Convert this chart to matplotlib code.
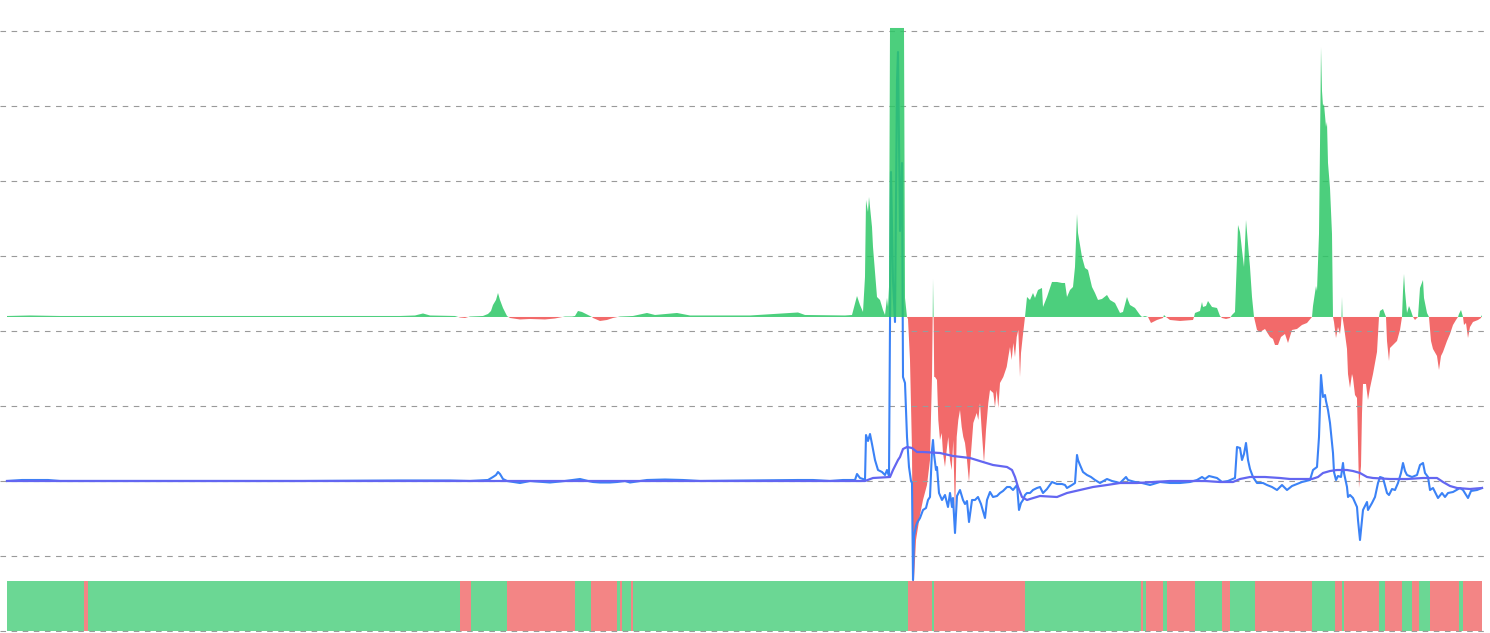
import numpy as np
import matplotlib.pyplot as plt

# oscillator (green above zero, red below), one grid step = 75
AREA = [
    (7, 1), (30, 1.5), (60, 1), (100, 1), (200, 1), (300, 1), (400, 1), (415, 1.5), (423, 3.5), (430, 1.5),
    (455, 1), (460, -0.5), (465, -1), (470, 0.5), (483, 1), (488, 3), (491, 6), (493, 12), (496, 17), (498, 24),
    (500, 17), (503, 9), (507, 1), (510, -1), (520, -2.5), (530, -2), (545, -2.5), (555, -1.5), (560, -0.5),
    (565, 0.5), (572, 0.5), (575, 1), (578, 6), (582, 5), (588, 2), (592, 0), (593, -1), (600, -4), (607, -3),
    (613, -1), (620, 0.5), (633, 1), (647, 4), (655, 2), (677, 4), (690, 1.5), (750, 1.5), (798, 4.5), (805, 2),
    (845, 1.5), (852, 2), (857, 21), (860, 12), (863, 5), (865, 40), (866, 117), (868, 105), (869, 120),
    (872, 90), (873, 70), (877, 20), (880, 17), (883, 7), (885, 2), (887, 19), (888, 10), (889, 30),
    (890, 289), (904, 289), (905, 19), (907, 0), (908, -2), (910, -43), (912, -133), (913, -286), (914, -263),
    (916, -223), (920, -198), (923, -183), (927, -168), (930, -143), (931, -100), (932, -60), (932.7, 0),
    (933, 38), (933.6, 0), (934.2, -60), (935, -60), (937, -63), (938.3, -103), (940, -123), (941.7, -116),
    (943, -136), (945, -150), (946.7, -133), (948.3, -120), (950, -143), (951.7, -153), (953.3, -123),
    (955, -200), (956.7, -120), (958.3, -103), (960, -93), (961.7, -110), (963.3, -120), (965, -126),
    (966.7, -140), (969, -165), (970.7, -140), (973.3, -106), (976.7, -96), (978.3, -103), (980, -86),
    (981.7, -113), (984, -146), (986, -113), (988.3, -86), (990, -73), (993.3, -76), (995, -90), (996.7, -73),
    (998.3, -91), (1000, -66), (1003.3, -60), (1006.7, -50), (1008.3, -40), (1010, -30), (1011.7, -43),
    (1013.3, -26), (1015, -40), (1016.7, -20), (1018.3, -13), (1020, -60), (1021, -36), (1022.7, -20),
    (1025, 0), (1027, 20), (1030, 17), (1033, 24), (1035, 19), (1038, 27), (1042, 29), (1043, 10), (1047, 20),
    (1052, 35), (1057, 35), (1062, 34), (1065, 34), (1067, 20), (1070, 27), (1073, 30), (1075, 50), (1077, 103),
    (1078, 84), (1082, 60), (1085, 49), (1088, 47), (1092, 30), (1095, 24), (1098, 17), (1102, 18), (1107, 22),
    (1110, 17), (1115, 14), (1120, 4), (1123, 5), (1127, 20), (1128, 17), (1130, 12), (1135, 9), (1140, 2),
    (1142, 0), (1145, 1), (1148, 0), (1151, -6), (1157, -3), (1163, -1), (1164, 2), (1166, 0), (1170, -3),
    (1180, -4), (1193, -3), (1194, 0), (1195, 4), (1200, 6), (1202, 15), (1203, 10), (1206, 11), (1208, 16),
    (1212, 10), (1217, 9), (1220, 1), (1222, -1), (1226, -2), (1230, -1), (1232, 2), (1235, 5), (1237, 60),
    (1238, 92), (1240, 85), (1242, 67), (1244, 50), (1246, 97), (1248, 73), (1250, 50), (1252, 20), (1254, 0),
    (1257, -13), (1260, -15), (1265, -12), (1270, -20), (1273, -22), (1275, -28), (1278, -28), (1281, -20),
    (1285, -17), (1288, -26), (1292, -13), (1297, -12), (1302, -8), (1307, -6), (1312, 0), (1313, 11),
    (1316, 31), (1317, 26), (1319, 83), (1320, 172), (1321, 270), (1322, 226), (1323, 211), (1324, 213),
    (1326, 190), (1327, 195), (1328, 154), (1330, 129), (1332, 83), (1333, 0), (1334, -5), (1336, -21),
    (1338, -10), (1340, -17), (1341, -8), (1341.5, 0), (1342, 20), (1342.5, 0), (1344, -10), (1345, -17),
    (1347, -32), (1348, -57), (1350, -71), (1352, -57), (1353, -61), (1355, -78), (1357, -81), (1359, -171),
    (1361, -149), (1362, -96), (1363, -67), (1366, -67), (1368, -83), (1370, -71), (1373, -57), (1377, -35),
    (1379, 0), (1380, 6), (1383, 8), (1386, 0), (1387, -24), (1389, -44), (1390, -31), (1393, -28),
    (1397, -24), (1400, -13), (1402, 0), (1403, 26), (1404, 43), (1405, 26), (1407, 4), (1409, 11), (1411, 6),
    (1413, 0), (1415, -3), (1417, -1), (1418, 0), (1420, 29), (1423, 37), (1424, 19), (1427, 4), (1429, 0),
    (1431, -24), (1433, -32), (1437, -39), (1439, -53), (1441, -39), (1443, -35), (1447, -24), (1450, -17),
    (1453, -8), (1456, -3), (1458, 0), (1459, 3), (1461, 7), (1463, 0), (1464, -8), (1466, -6), (1468, -21),
    (1470, -10), (1473, -5), (1478, -3), (1481, -1), (1482, 2),
]

# main line
LINE = [
    (7, 0), (22, 1), (48, 1), (60, 0), (100, 0), (200, 0), (300, 0), (400, 0.5), (450, 0.5), (470, 0), (488, 1),
    (493, 4), (496, 6), (498, 9), (500, 7), (503, 2), (507, 0), (520, -2), (530, 0), (550, -1.5), (565, 0),
    (580, 2), (588, 0), (593, -1), (600, -1.5), (610, -1.5), (617, -1), (625, 0), (630, -1.5), (640, 0),
    (647, 1), (665, 1.5), (683, 1), (700, 0), (750, 0.5), (798, 1), (813, 1), (830, 0), (843, 1), (855, 1),
    (857, 7), (860, 3), (863, 2), (865, 1), (866, 46), (868, 40), (870, 47), (872, 37), (875, 21), (878, 11),
    (882, 9), (885, 6), (887, 11), (889, 5), (891, 309), (893, 200), (895, 159), (897, 400), (898, 429),
    (900, 250), (902, 318), (903, 104), (905, 98), (907, 44), (909, 14), (911, 0), (912, -2), (913, -99),
    (914, -55), (916, -45),
    (917, -42), (920, -37), (923, -29), (926, -27), (928, -19), (930, -16), (932, 31), (933, 41), (934, 27),
    (936, 11), (937, 14), (939, -12), (942, -19), (945, -14), (948, -26), (950, -12), (952, -26), (953, -17),
    (955, -52), (957, -15), (960, -9), (963, -19), (965, -23), (967, -20), (969, -41), (972, -19), (975, -19),
    (978, -16), (981, -23), (985, -37), (987, -19), (990, -11), (993, -16), (997, -15), (1000, -12),
    (1003, -10), (1007, -6), (1010, -6), (1013, -9), (1017, -4), (1019, -29), (1021, -22), (1023, -19),
    (1025, -14), (1027, -12), (1030, -12), (1033, -9), (1037, -7), (1040, -6), (1043, -12), (1047, -8),
    (1052, -1), (1057, -3), (1062, -3), (1065, -4), (1067, -7), (1072, -4), (1075, -2), (1077, 26), (1078, 21),
    (1080, 16), (1083, 9), (1087, 6), (1091, 4), (1095, 1), (1100, -2), (1107, 2), (1112, 0), (1120, -2),
    (1126, 4), (1128, 1), (1135, -1), (1142, -2), (1150, -4), (1160, -1), (1170, -2), (1180, -2), (1190, -1),
    (1197, 1), (1202, 4), (1205, 2), (1209, 5), (1217, 3), (1222, -1), (1228, 0), (1235, 3), (1237, 34),
    (1240, 33), (1242, 21), (1244, 27), (1246, 38), (1248, 21), (1250, 12), (1253, 4), (1257, -2), (1263, -2),
    (1267, -4), (1272, -6), (1277, -9), (1282, -4), (1287, -9), (1292, -5), (1302, -1), (1310, 1), (1313, 11),
    (1317, 14), (1319, 44), (1321, 106), (1323, 84), (1325, 86), (1326, 80), (1328, 71), (1330, 58),
    (1333, 28), (1334, 9), (1336, 1), (1338, 5), (1341, 4), (1343, 18), (1344, 8), (1347, -6), (1348, -16),
    (1350, -14), (1353, -17), (1357, -26), (1358, -39), (1360, -59), (1362, -39), (1363, -29), (1367, -21),
    (1368, -29), (1372, -22), (1375, -16), (1378, -2), (1380, 4), (1383, 3), (1387, -12), (1389, -14),
    (1392, -8), (1395, -9), (1398, -2), (1401, 8), (1403, 18), (1405, 10), (1407, 6), (1412, 4), (1417, 6),
    (1420, 16), (1423, 18), (1425, 8), (1428, 4), (1430, -9), (1433, -7), (1438, -17), (1442, -12),
    (1445, -16), (1448, -12), (1453, -11), (1460, -7), (1463, -9), (1468, -17), (1471, -10), (1477, -9),
    (1482, -7),
]

# moving average of the main line
AVG = [
    (7, 0), (840, 0), (865, 0), (873, 3), (890, 4), (893, 11), (898, 21), (900, 24), (903, 32), (907, 34),
    (912, 33), (917, 29), (923, 29), (940, 28), (953, 25), (970, 23), (983, 19), (993, 16), (1007, 14),
    (1012, 11), (1015, 4), (1018, -6), (1022, -16), (1027, -19), (1030, -18), (1040, -15), (1057, -16),
    (1067, -12), (1080, -9), (1093, -6), (1107, -4), (1120, -2), (1137, -2), (1153, -1), (1170, 0), (1187, 0),
    (1205, 0), (1220, -1), (1233, -1), (1240, 2), (1250, 4), (1265, 4), (1280, 3), (1290, 2), (1312, 2),
    (1318, 4), (1323, 8), (1330, 10), (1337, 11), (1347, 11), (1353, 10), (1360, 8), (1367, 4), (1373, 3),
    (1390, 2), (1407, 2), (1423, 3), (1437, 3), (1443, -1), (1450, -5), (1457, -7), (1470, -8), (1482, -7),
]

# regime strip: edges and state of each segment (1 = bull, 0 = bear)
REGIME_EDGES = [7, 84, 87.5, 460, 471, 507, 575, 591, 617, 619.5, 622, 630.5, 633, 908, 932, 934, 1025,
                1141, 1143.3, 1145.7, 1163, 1166.8, 1194.5, 1221.8, 1230.4, 1255.3, 1312.2, 1335.2, 1341.9,
                1343.8, 1379.2, 1385, 1401.7, 1412.2, 1419.4, 1430.4, 1459.1, 1463, 1482]
REGIME_STATE = [1, 0, 1, 0, 1, 0, 1, 0, 1, 0, 1, 0, 1, 0, 1, 0, 1, 0, 1, 0, 1, 0, 1, 0, 1, 0, 1, 0, 1, 0,
                1, 0, 1, 0, 1, 0, 1, 0]

STEP = 75.0        # values per grid step
AREA_ZERO = 4.187  # grid level of the oscillator zero
LINE_ZERO = 2.0    # grid level of the line zero
STRIP_H = 0.667

GREEN, RED = '#2cc766', '#f26a6a'
STRIP_GREEN, STRIP_RED = '#6bd794', '#f38585'

at, av = np.array(AREA).T
lt, lv = np.array(LINE).T
mt, mv = np.array(AVG).T

fig = plt.figure(figsize=(14.9, 6.33), dpi=100)
ax = fig.add_axes([0, 0, 1, 1])
ax.set_xlim(0, 1490)
ax.set_ylim(-2 / STEP, 631 / STEP)
ax.axis('off')

# oscillator area (green is translucent and sits over the line)
ay = AREA_ZERO + av / STEP
ax.fill_between(at, AREA_ZERO, ay, where=av >= 0, interpolate=True, color=GREEN, alpha=0.85, lw=0, zorder=5)
ax.fill_between(at, AREA_ZERO, ay, where=av <= 0, interpolate=True, color=RED, lw=0, zorder=1)

# regime strip
for i, s in enumerate(REGIME_STATE):
    x0, x1 = REGIME_EDGES[i], REGIME_EDGES[i + 1]
    ax.fill_between([x0, x1], 0, STRIP_H, color=STRIP_GREEN if s else STRIP_RED, lw=0, zorder=1)

# grid
for k in range(9):
    ax.hlines(k, 0, 1486, colors='#9a9a9a', linestyles=(0, (5, 5)), linewidth=0.8, zorder=2)

ax.plot(lt, LINE_ZERO + lv / STEP, color='#3b82f6', lw=1.5, zorder=3, solid_joinstyle='round')
ax.plot(mt, LINE_ZERO + mv / STEP, color='#6366f1', lw=1.6, zorder=4)

fig.savefig('out.png', dpi=100)
